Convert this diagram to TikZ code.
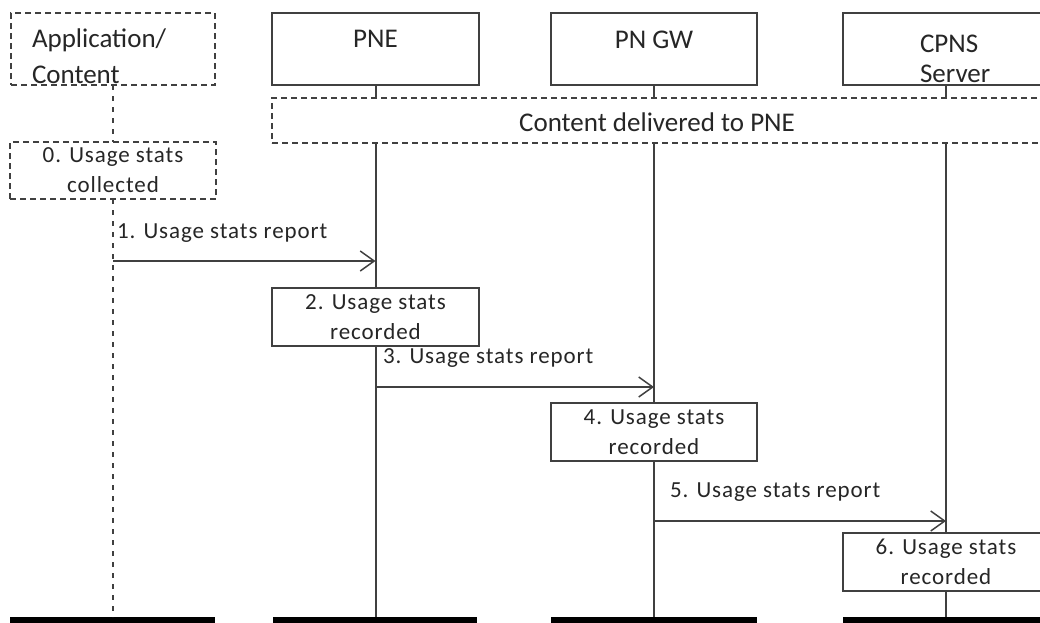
\documentclass[tikz,border=0pt]{standalone}
\usepackage{fontspec}
\setmainfont{Carlito}
\newfontfamily\lblfont[LetterSpace=4]{Carlito}
\usetikzlibrary{arrows.meta}
\begin{document}
\begin{tikzpicture}[x=1pt,y=-1pt,
  every node/.style={inner sep=0pt, outer sep=0pt},
  hdr/.style={font=\fontsize{27}{36}\selectfont, text=black!85},
  lbl/.style={font=\lblfont\fontsize{23}{30}\selectfont, text=black!85},
  sbox/.style={rectangle, draw=black!75, line width=1.5pt, fill=white, align=center},
  dbox/.style={sbox, dash pattern=on 6pt off 4pt},
  life/.style={draw=black!75, line width=2pt},
  dlife/.style={life, dash pattern=on 5pt off 6pt},
  msg/.style={draw=black!75, line width=2pt, -{Straight Barb[length=14pt,width=20pt,line width=1.5pt]}},
  endbar/.style={rectangle, fill=black, minimum height=6pt},
]
\useasboundingbox (0,0) rectangle (1040,622);
\clip (0,0) rectangle (1040,622);

% header boxes
\node[dbox, minimum width=204pt, minimum height=72pt] (app) at (113,49) {};
\node[hdr, anchor=west, align=left] (appT) at (32,56) {Application/\\Content};
\node[sbox, minimum width=207pt, minimum height=72pt] (pne) at (375.5,49) {};
\node[hdr, anchor=base] (pneT) at (375.5,47) {PNE};
\node[sbox, minimum width=206pt, minimum height=72pt] (gw) at (654,49) {};
\node[hdr, anchor=base] (gwT) at (654,48) {PN GW};
\node[sbox, minimum width=206pt, minimum height=72pt] (cpns) at (946,49) {};
\node[hdr, anchor=west, align=left, font=\fontsize{27}{30}\selectfont] (cpnsT) at (920,59) {CPNS\\Server};

% content delivered
\node[dbox, minimum width=770pt, minimum height=45pt] (cont) at (657,120.5) {};
\node[hdr, anchor=base] (contT) at (657,131) {Content delivered to PNE};

% step boxes
\node[dbox, lbl, minimum width=206pt, minimum height=57pt] (s0) at (113,170.5) {0. Usage stats\\collected};
\node[sbox, lbl, minimum width=207pt, minimum height=58pt] (s2) at (375.5,317) {2. Usage stats\\recorded};
\node[sbox, lbl, minimum width=206pt, minimum height=58pt] (s4) at (654,432) {4. Usage stats\\recorded};
\node[sbox, lbl, minimum width=206pt, minimum height=58pt] (s6) at (946,562) {6. Usage stats\\recorded};

% end bars
\node[endbar, minimum width=205pt] (appE) at (112.5,620) {};
\node[endbar, minimum width=204pt] (pneE) at (375,620) {};
\node[endbar, minimum width=206pt] (gwE) at (654,620) {};
\node[endbar, minimum width=206pt] (cpnsE) at (946,620) {};

% lifelines
\draw[dlife] (app.south) -- (s0.north);
\draw[dlife] (s0.south) -- (s0.south |- appE.north);
\draw[life] (pne.south) -- (pne.south |- cont.north);
\draw[life] (pne.south |- cont.south) -- (s2.north);
\draw[life] (s2.south) -- (s2.south |- pneE.north);
\draw[life] (gw.south) -- (gw.south |- cont.north);
\draw[life] (gw.south |- cont.south) -- (s4.north);
\draw[life] (s4.south) -- (s4.south |- gwE.north);
\draw[life] (cpns.south) -- (cpns.south |- cont.north);
\draw[life] (cpns.south |- cont.south) -- (s6.north);
\draw[life] (s6.south) -- (s6.south |- cpnsE.north);

% messages
\coordinate (y1) at (0,261);
\coordinate (y3) at (0,387);
\coordinate (y5) at (0,521);
\draw[msg] (app.south |- y1) -- (pne.south |- y1);
\draw[msg] (pne.south |- y3) -- (gw.south |- y3);
\draw[msg] (gw.south |- y5) -- (cpns.south |- y5);
\node[lbl, anchor=base west] (m1T) at (117,238) {1. Usage stats report};
\node[lbl, anchor=base west] (m3T) at (383,363) {3. Usage stats report};
\node[lbl, anchor=base west] (m5T) at (670,497) {5. Usage stats report};
\end{tikzpicture}
\end{document}
